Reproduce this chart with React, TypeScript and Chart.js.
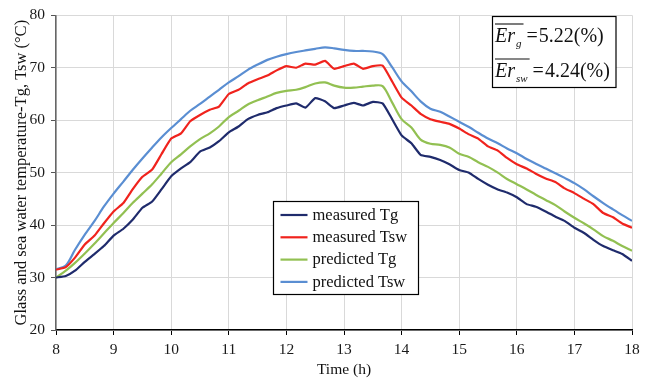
import React, { useEffect, useRef } from "react";
import { Chart, registerables } from "chart.js";

Chart.register(...registerables);

// Time of day (h), 10-minute readings
const TIMES = [
  8.0, 8.17, 8.33, 8.5, 8.67, 8.83, 9.0, 9.17, 9.33, 9.5, 9.67, 9.83,
  10.0, 10.17, 10.33, 10.5, 10.67, 10.83, 11.0, 11.17, 11.33, 11.5, 11.67, 11.83,
  12.0, 12.17, 12.33, 12.5, 12.67, 12.83, 13.0, 13.17, 13.33, 13.5, 13.67, 13.83,
  14.0, 14.17, 14.33, 14.5, 14.67, 14.83, 15.0, 15.17, 15.33, 15.5, 15.67, 15.83,
  16.0, 16.17, 16.33, 16.5, 16.67, 16.83, 17.0, 17.17, 17.33, 17.5, 17.67, 17.83,
  18.0,
];

const MEASURED_TG = [
  30.0, 30.3, 31.3, 33.0, 34.5, 36.0, 38.0, 39.3, 41.0, 43.3, 44.5, 46.8,
  49.3, 50.8, 52.0, 54.0, 54.8, 56.0, 57.7, 58.8, 60.2, 61.0, 61.5, 62.3,
  62.8, 63.2, 62.4, 64.2, 63.6, 62.3, 62.8, 63.3, 62.8, 63.5, 63.2, 60.3,
  57.1, 55.6, 53.4, 53.0, 52.4, 51.6, 50.5, 50.0, 48.8, 47.7, 46.8, 46.2,
  45.3, 44.0, 43.5, 42.6, 41.6, 40.8, 39.5, 38.5, 37.2, 36.0, 35.2, 34.5,
  33.2,
];

const MEASURED_TSW = [
  31.5, 32.0, 33.8, 36.3, 38.0, 40.3, 42.6, 44.2, 46.8, 49.2, 50.6, 53.5,
  56.5, 57.5, 59.8, 61.0, 62.0, 62.6, 65.0, 65.8, 67.0, 67.8, 68.5, 69.5,
  70.3, 70.0, 70.8, 70.6, 71.3, 69.8, 70.3, 70.8, 69.8, 70.3, 70.4, 67.5,
  64.3, 62.8, 61.2, 60.2, 59.7, 59.3, 58.4, 57.3, 56.5, 55.0, 54.2, 52.8,
  51.6, 50.8, 49.8, 48.9, 48.2, 47.0, 46.1, 45.0, 44.0, 42.3, 41.5, 40.3,
  39.5,
];

const PREDICTED_TG = [
  30.0, 31.3, 32.8, 34.6, 36.5, 38.4, 40.4, 42.3, 44.2, 46.0, 47.8, 49.8,
  52.0, 53.5, 55.0, 56.4, 57.5, 58.8, 60.6, 61.8, 63.0, 63.8, 64.5, 65.2,
  65.6, 65.8, 66.3, 67.0, 67.2, 66.6, 66.2, 66.2, 66.4, 66.6, 66.5, 63.5,
  60.2, 58.6, 56.3, 55.5, 55.3, 54.8, 53.6, 53.0, 52.0, 51.1, 50.0, 48.8,
  47.8, 46.8, 45.8, 44.8, 43.8, 42.6, 41.4, 40.3, 39.2, 37.9, 37.0, 36.0,
  35.1,
];

const PREDICTED_TSW = [
  31.6, 32.3, 35.3, 38.2, 40.8, 43.5, 46.0, 48.3, 50.5, 52.7, 54.8, 56.7,
  58.5, 60.2, 61.8, 63.1, 64.5, 65.8, 67.2, 68.4, 69.6, 70.6, 71.5, 72.1,
  72.6, 73.0, 73.3, 73.6, 73.9, 73.7, 73.4, 73.2, 73.2, 73.1, 72.6, 70.2,
  67.4, 65.5, 63.6, 62.2, 61.6, 60.7, 59.7, 58.7, 57.6, 56.5, 55.6, 54.6,
  53.7, 52.6, 51.7, 50.8, 49.9, 49.0, 48.0, 46.8, 45.5, 44.2, 43.0, 41.9,
  40.8,
];

const SERIES_LABELS = ["measured Tg", "measured Tsw", "predicted Tg", "predicted Tsw"];
const SERIES_COLORS = ["#1f2b6c", "#f0231d", "#92c052", "#5a8ed2"];
const SERIES_TENSION = [0.15, 0.15, 0.3, 0.3];
const ERR_LABELS = ["g", "sw"];
const ERR_VALUES = ["5.22", "4.24"];

const SERIF = "'Liberation Serif', 'Times New Roman', serif";

const overlayPlugin = {
  id: "overlay",
  afterDraw(chart: any) {
    const ctx = chart.ctx as CanvasRenderingContext2D;
    ctx.save();

    // Legend box
    const lx = 273.5, ly = 201.5, lw = 145, lh = 93;
    ctx.fillStyle = "#ffffff";
    ctx.fillRect(lx, ly, lw, lh);
    ctx.strokeStyle = "#000";
    ctx.lineWidth = 1.2;
    ctx.strokeRect(lx, ly, lw, lh);
    ctx.font = `16.5px ${SERIF}`;
    ctx.textBaseline = "middle";
    ctx.textAlign = "left";
    chart.data.datasets.forEach((ds: any, i: number) => {
      const y = ly + 13.5 + i * 22.3;
      ctx.strokeStyle = ds.borderColor;
      ctx.lineWidth = 2.2;
      ctx.beginPath();
      ctx.moveTo(lx + 7, y);
      ctx.lineTo(lx + 34, y);
      ctx.stroke();
      ctx.fillStyle = "#111";
      ctx.fillText(ds.label, lx + 39, y + 0.5);
    });

    // Error box
    const bx = 492.5, by = 16.5, bw = 123.5, bh = 71;
    ctx.fillStyle = "#ffffff";
    ctx.fillRect(bx, by, bw, bh);
    ctx.strokeStyle = "#000";
    ctx.lineWidth = 1.2;
    ctx.strokeRect(bx, by, bw, bh);
    ctx.textBaseline = "alphabetic";
    ctx.fillStyle = "#111";
    const baselines = [42, 77];
    ERR_LABELS.forEach((sub, i) => {
      const x0 = 495;
      const base = baselines[i];
      ctx.font = `italic 20px ${SERIF}`;
      ctx.fillText("Er", x0, base);
      const wEr = ctx.measureText("Er").width;
      ctx.font = `italic 11px ${SERIF}`;
      ctx.fillText(sub, x0 + wEr + 1, base + 5);
      const wSub = ctx.measureText(sub).width;
      // overline
      ctx.strokeStyle = "#111";
      ctx.lineWidth = 1.1;
      ctx.beginPath();
      ctx.moveTo(x0, base - 18);
      ctx.lineTo(x0 + wEr + wSub + 3, base - 18);
      ctx.stroke();
      ctx.font = `20px ${SERIF}`;
      const xe = x0 + wEr + wSub + 6;
      ctx.fillText("=", xe, base);
      const wEq = ctx.measureText("=").width;
      ctx.fillText(`${ERR_VALUES[i]}(%)`, xe + wEq + 1, base);
    });

    ctx.restore();
  },
};

export default function App() {
  const canvasRef = useRef<HTMLCanvasElement | null>(null);

  useEffect(() => {
    if (!canvasRef.current) return;
    const seriesData = [MEASURED_TG, MEASURED_TSW, PREDICTED_TG, PREDICTED_TSW];
    const datasets = seriesData.map((vals, i) => ({
      label: SERIES_LABELS[i],
      data: vals.map((v, j) => ({ x: TIMES[j], y: v })),
      borderColor: SERIES_COLORS[i],
      backgroundColor: SERIES_COLORS[i],
      borderWidth: 2.2,
      pointRadius: 0,
      tension: SERIES_TENSION[i],
      fill: false,
    }));

    const tickFont = { family: SERIF, size: 15.5 };
    const chart = new Chart(canvasRef.current, {
      type: "line",
      data: { datasets },
      options: {
        responsive: false,
        animation: false,
        devicePixelRatio: 1,
        layout: { padding: { top: 12, right: 21, left: 0, bottom: 0 } },
        plugins: {
          legend: { display: false },
          tooltip: { enabled: false },
        },
        scales: {
          x: {
            type: "linear",
            min: 8,
            max: 18,
            ticks: {
              stepSize: 1,
              font: tickFont,
              color: "#1a1a1a",
              padding: 6,
              maxRotation: 0,
              autoSkip: false,
            },
            grid: { color: "#d9d9d9", lineWidth: 1, tickLength: 5, tickColor: "#000" },
            border: { color: "#000", width: 1.5 },
            title: {
              display: true,
              text: "Time (h)",
              font: { family: SERIF, size: 15.5 },
              color: "#111",
              padding: { top: 0, bottom: 2 },
            },
            afterFit(scale: any) {
              scale.height = 51;
            },
          },
          y: {
            type: "linear",
            min: 20,
            max: 80,
            ticks: {
              stepSize: 10,
              font: tickFont,
              color: "#1a1a1a",
              padding: 6,
            },
            grid: { color: "#d9d9d9", lineWidth: 1, tickLength: 5, tickColor: "#555" },
            border: { color: "#666", width: 1.5 },
            title: {
              display: true,
              text: "Glass and sea water temperature-Tg, Tsw (°C)",
              font: { family: SERIF, size: 16.5 },
              color: "#111",
              padding: { top: 12, bottom: 0 },
            },
            afterFit(scale: any) {
              scale.width = 56;
            },
          },
        },
      } as any,
      plugins: [overlayPlugin],
    });
    return () => chart.destroy();
  }, []);

  return (
    <div style={{ position: "fixed", left: 0, top: 0, width: 653, height: 381, background: "#fff" }}>
      <canvas ref={canvasRef} width={653} height={381} style={{ display: "block" }} />
    </div>
  );
}
